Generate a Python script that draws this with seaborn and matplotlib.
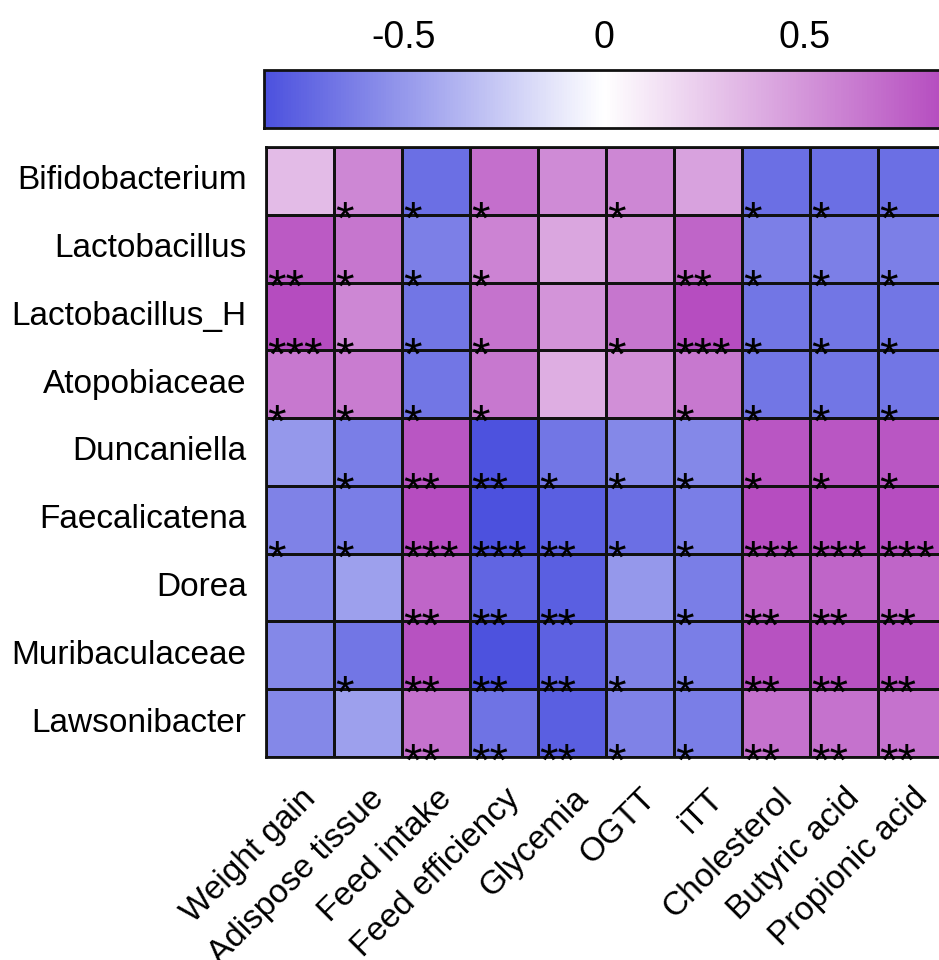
import numpy as np
import pandas as pd
import matplotlib
matplotlib.use("Agg")
import matplotlib.pyplot as plt
import matplotlib.transforms as mtransforms
import seaborn as sns
from matplotlib.colors import LinearSegmentedColormap

# bacteria (rows) and host measures (columns)
genera = ["Bifidobacterium", "Lactobacillus", "Lactobacillus_H", "Atopobiaceae",
          "Duncaniella", "Faecalicatena", "Dorea", "Muribaculaceae", "Lawsonibacter"]
measures = ["Weight gain", "Adispose tissue", "Feed intake", "Feed efficiency",
            "Glycemia", "OGTT", "iTT", "Cholesterol", "Butyric acid", "Propionic acid"]

# correlation coefficients
corr_values = [
    [0.32, 0.57, -0.70, 0.68, 0.55, 0.57, 0.44, -0.70, -0.70, -0.70],
    [0.78, 0.65, -0.62, 0.59, 0.42, 0.53, 0.73, -0.62, -0.62, -0.62],
    [0.85, 0.57, -0.67, 0.66, 0.51, 0.65, 0.84, -0.67, -0.67, -0.67],
    [0.64, 0.62, -0.67, 0.64, 0.38, 0.53, 0.64, -0.67, -0.67, -0.67],
    [-0.50, -0.63, 0.80, -0.84, -0.67, -0.58, -0.58, 0.80, 0.80, 0.80],
    [-0.61, -0.63, 0.84, -0.85, -0.78, -0.70, -0.63, 0.84, 0.84, 0.84],
    [-0.58, -0.46, 0.73, -0.75, -0.78, -0.50, -0.63, 0.73, 0.73, 0.73],
    [-0.58, -0.67, 0.82, -0.84, -0.77, -0.61, -0.63, 0.82, 0.82, 0.82],
    [-0.58, -0.46, 0.67, -0.68, -0.78, -0.61, -0.63, 0.67, 0.67, 0.67],
]

# significance marks
signif = [
    ["", "*", "*", "*", "", "*", "", "*", "*", "*"],
    ["**", "*", "*", "*", "", "", "**", "*", "*", "*"],
    ["***", "*", "*", "*", "", "*", "***", "*", "*", "*"],
    ["*", "*", "*", "*", "", "", "*", "*", "*", "*"],
    ["", "*", "**", "**", "*", "*", "*", "*", "*", "*"],
    ["*", "*", "***", "***", "**", "*", "*", "***", "***", "***"],
    ["", "", "**", "**", "**", "", "*", "**", "**", "**"],
    ["", "*", "**", "**", "**", "*", "*", "**", "**", "**"],
    ["", "", "**", "**", "**", "*", "*", "**", "**", "**"],
]

cbar_ticks = [-0.5, 0, 0.5]
cbar_labels = ["-0.5", "0", "0.5"]

sns.set_style("white")
plt.rcParams['font.family'] = ['Liberation Sans', 'DejaVu Sans']
plt.rcParams['text.color'] = 'black'
plt.rcParams['xtick.color'] = 'black'
plt.rcParams['ytick.color'] = 'black'

df = pd.DataFrame(corr_values, index=genera, columns=measures)
cmap = LinearSegmentedColormap.from_list("bw_mag", ["#4c51de", "#ffffff", "#b54cbf"])

fig = plt.figure(figsize=(9.39, 9.6), dpi=100)
ax = fig.add_axes([0.2833, 0.2115, 0.7245, 0.6354])
cax = fig.add_axes([0.2812, 0.8667, 0.7245, 0.0604])

sns.heatmap(df, ax=ax, cmap=cmap, vmin=-0.85, vmax=0.85, cbar=False,
            linewidths=1.0, linecolor="#111111", square=False)

# stars in the lower left corner of each cell
for i, row in enumerate(signif):
    for j, s in enumerate(row):
        if s:
            ax.text(j + 0.02, i + 1.28, s, ha="left", va="baseline",
                    fontsize=34, color="black")

for sp in ax.spines.values():
    sp.set_visible(True)
    sp.set_linewidth(2)
    sp.set_color("#111111")

ax.tick_params(axis="both", length=0, colors="black")
ax.tick_params(axis="y", pad=14)
ax.set_yticklabels(genera, rotation=0, fontsize=24, color="black")
ax.set_xticklabels(measures, rotation=45, ha="right", rotation_mode="anchor",
                   fontsize=24, color="black")
offset = mtransforms.ScaledTranslation(0 / 72, -15 / 72, fig.dpi_scale_trans)
for lbl in ax.get_xticklabels():
    lbl.set_transform(lbl.get_transform() + offset)
ax.set_xlabel("")
ax.set_ylabel("")

cb = fig.colorbar(ax.collections[0], cax=cax, orientation="horizontal")
cb.set_ticks(cbar_ticks)
cb.set_ticklabels(cbar_labels)
cax.tick_params(direction="in", top=True, bottom=True, labeltop=True,
                labelbottom=False, length=8, width=1.8, labelsize=27, pad=10,
                colors="black")
cb.outline.set_linewidth(2)
cb.outline.set_edgecolor("#111111")

fig.savefig("out.png", dpi=100)
